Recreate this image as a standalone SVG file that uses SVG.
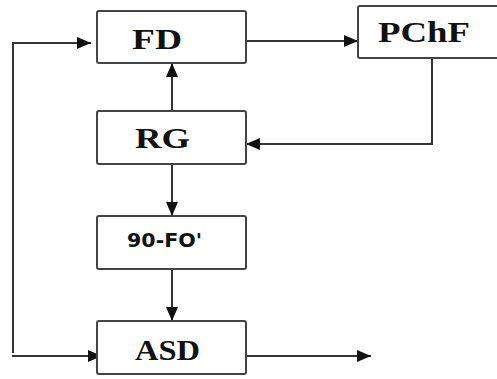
<svg xmlns="http://www.w3.org/2000/svg" width="497" height="379" viewBox="0 0 497 379">
<style>
.box{fill:#fff;stroke:#444;stroke-width:2}
.lbl{font-family:"Liberation Serif","Times New Roman",serif;font-weight:bold;font-size:30px;fill:#111}
.lbl2{font-family:"DejaVu Sans","Liberation Sans",sans-serif;font-weight:bold;font-size:20px;fill:#111}
.ln{fill:none;stroke:#333;stroke-width:2}
</style>
<defs>
<marker id="ah" viewBox="0 0 14 12" refX="14" refY="6" markerWidth="14" markerHeight="12" markerUnits="userSpaceOnUse" orient="auto">
<path d="M0,0 L14,6 L0,12 Z" fill="#111"/>
</marker>
</defs>
<g id="connectors">
<path class="ln" d="M246,41 H358" marker-end="url(#ah)"/>
<path class="ln" d="M432,58 V144 H246" marker-end="url(#ah)"/>
<path class="ln" d="M172,111 V63" marker-end="url(#ah)"/>
<path class="ln" d="M172,164 V216" marker-end="url(#ah)"/>
<path class="ln" d="M172,269 V321" marker-end="url(#ah)"/>
<path class="ln" d="M13,353 V43 H91" marker-end="url(#ah)"/>
<path class="ln" d="M12,356 H102" marker-end="url(#ah)"/>
<path class="ln" d="M246,356 H371" marker-end="url(#ah)"/>
</g>
<g id="node-FD">
<rect class="box" x="97" y="11" width="149" height="52" rx="2"/>
<text class="lbl" x="132" y="49" textLength="50" lengthAdjust="spacingAndGlyphs">FD</text>
</g>
<g id="node-PChF">
<rect class="box" x="358" y="6" width="150" height="52" rx="2"/>
<text class="lbl" x="378" y="42" textLength="92" lengthAdjust="spacingAndGlyphs">PChF</text>
</g>
<g id="node-RG">
<rect class="box" x="97" y="111" width="149" height="53" rx="2"/>
<text class="lbl" x="135" y="148" textLength="55" lengthAdjust="spacingAndGlyphs">RG</text>
</g>
<g id="node-90FO">
<rect class="box" x="97" y="216" width="149" height="53" rx="2"/>
<text class="lbl2" x="127" y="247" textLength="75" lengthAdjust="spacingAndGlyphs">90-FO'</text>
</g>
<g id="node-ASD">
<rect class="box" x="97" y="321" width="149" height="53" rx="2"/>
<text class="lbl" x="135" y="360" textLength="65" lengthAdjust="spacingAndGlyphs">ASD</text>
</g>
</svg>
